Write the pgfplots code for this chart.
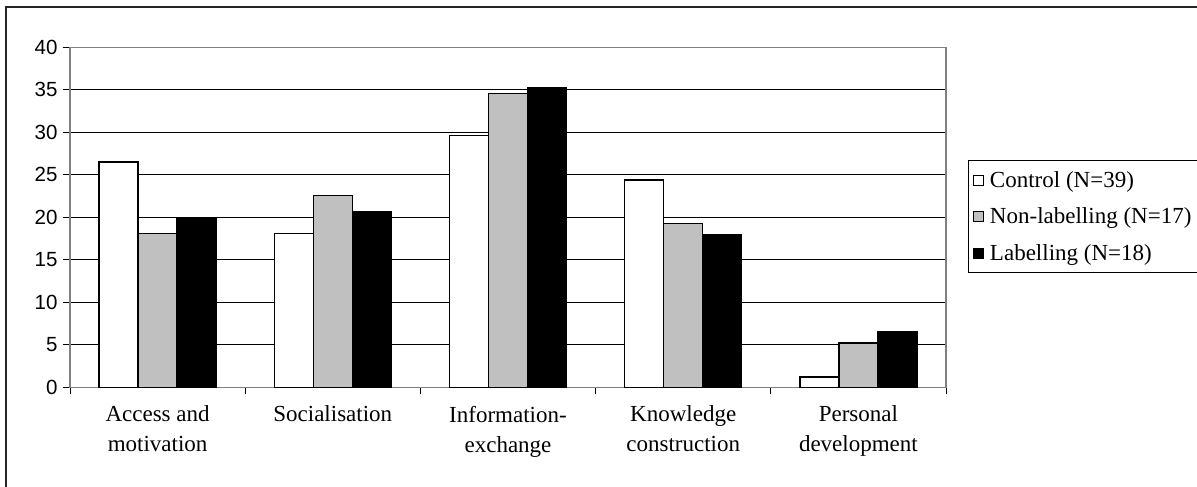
\documentclass[border=0pt]{standalone}
\usepackage{fontspec}
\setmainfont{Liberation Serif}
\newfontfamily\arialfont{Liberation Sans}
\usepackage{pgfplots}
\pgfplotsset{compat=1.18}
\definecolor{barsilver}{RGB}{192,192,192}
\definecolor{framegray}{RGB}{128,128,128}
\begin{document}
\begin{tikzpicture}[x=1pt,y=1pt]
\useasboundingbox (0,0) rectangle (1197,487);
% chart area frame
\draw[line width=1.3pt, black!85] (6,-20) -- (6,480) -- (1220,480);
\begin{axis}[
  at={(70pt,99.7pt)}, anchor=south west,
  scale only axis, width=876pt, height=340pt,
  ymin=0, ymax=40, ytick={0,5,...,40},
  xmin=-0.5, xmax=4.5,
  xtick={0,...,4},
  xticklabels={{Access and\\motivation},{Socialisation},{Information-\\exchange},{Knowledge\\construction},{Personal\\development}},
  minor xtick={-0.5,0.5,...,4.5},
  tick align=outside, tick pos=left,
  major tick length=7pt, minor tick length=7pt,
  major x tick style={draw=none},
  every tick/.style={black, line width=0.9pt},
  ymajorgrids, grid style={black, line width=0.9pt},
  axis line style={framegray, line width=1.2pt},
  ybar=0pt, bar width=39pt,
  every axis plot/.append style={draw=black, line width=1.3pt},
  yticklabel style={font=\arialfont\fontsize{20.5}{24}\selectfont, /pgf/number format/assume math mode=true, xshift=-2pt},
  xticklabel style={font=\fontsize{23}{30}\selectfont, align=center, anchor=north, yshift=-8pt},
  legend style={at={(1.0251,0.6685)}, anchor=north west, draw=black, line width=1pt,
    font=\fontsize{23}{27}\selectfont, row sep=15pt, inner xsep=5pt, inner ysep=9pt},
  legend cell align=left,
  legend image code/.code={\draw[#1, draw=black, line width=1pt] (0pt,-5pt) rectangle (10pt,5pt);
    \path[draw=none, fill=none] (0pt,0pt) -- (14pt,0pt);},
]
\addplot[fill=white] coordinates {(0,26.5) (1,18.1) (2,29.6) (3,24.4) (4,1.2)};
\addplot[fill=barsilver] coordinates {(0,18.1) (1,22.6) (2,34.6) (3,19.3) (4,5.2)};
\addplot[fill=black] coordinates {(0,19.8) (1,20.7) (2,35.3) (3,17.9) (4,6.6)};
\legend{Control (N=39), Non-labelling (N=17), Labelling (N=18)}
\end{axis}
\end{tikzpicture}
\end{document}
